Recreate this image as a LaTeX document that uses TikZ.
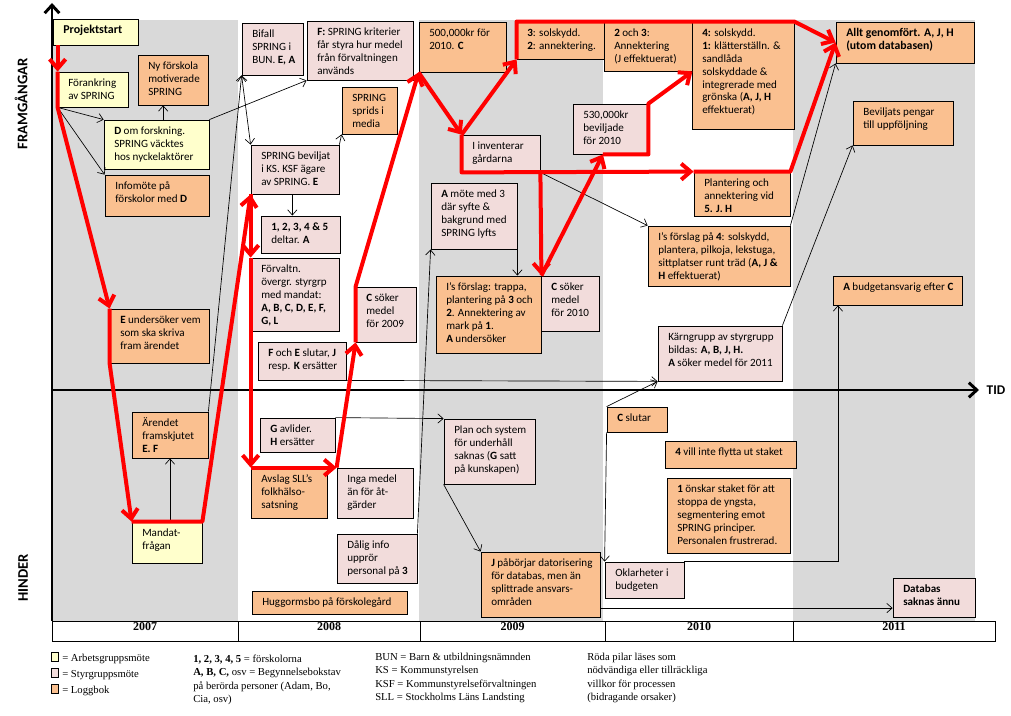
\documentclass[tikz,border=0pt]{standalone}
\usepackage{fontspec}
\setmainfont{Carlito}
\newfontfamily\legfont{Liberation Serif}
\usetikzlibrary{arrows.meta,fit,calc}
\definecolor{gbg}{HTML}{D9D9D9}
\definecolor{cyel}{HTML}{FFFFCC}
\definecolor{cpink}{HTML}{F2DCDB}
\definecolor{corg}{HTML}{FAC090}
\tikzset{
  boxs/.style={draw=black, line width=0.6pt, inner sep=0pt},
  txt/.style={anchor=north west, inner sep=0pt, align=left, font=\fontsize{8.3}{9.7}\selectfont},
  redar/.style={draw=red, line width=3pt, line join=round, -{Straight Barb[length=7pt,width=12pt]}},
  blk/.style={draw=black, line width=0.5pt, -{Straight Barb[length=4pt,width=7pt]}},
  axisln/.style={draw=black, line width=2.2pt, -{Straight Barb[length=6pt,width=11pt]}},
  yearcell/.style={draw=black, line width=0.6pt, inner sep=0pt, font=\legfont\bfseries\fontsize{9}{10}\selectfont},
  legtxt/.style={anchor=north west, inner sep=0pt, align=left, font=\legfont\fontsize{8}{10.1}\selectfont},
  legsq/.style={draw=black, line width=0.5pt, inner sep=0pt},
}
% #1 name, #2 x1, #3 y1, #4 x2, #5 y2, #6 fill, #7 text
\newcommand{\bx}[7]{%
  \node[boxs, fill=#6, fit={(#2,#3) (#4,#5)}] (#1) {};
  \path (#2,#3) ++(10,5) node[txt] (#1t) {\strut #7};
}
\begin{document}
\begin{tikzpicture}[x=0.75pt,y=-0.75pt]
\useasboundingbox (0,0) rectangle (1011,716);
% background columns
\fill[gbg] (52,20) rectangle (238,621);
\fill[gbg] (419,20) rectangle (603,621);
\fill[gbg] (793,20) rectangle (975,621);
% year row
\node[yearcell, fit={(52,621) (238,641)}] (y7) {2007};
\node[yearcell, fit={(238,621) (420,641)}] (y8) {2008};
\node[yearcell, fit={(420,621) (605,641)}] (y9) {2009};
\node[yearcell, fit={(605,621) (793,641)}] (y10) {2010};
\node[yearcell, fit={(793,621) (995,641)}] (y11) {2011};
% axes
\coordinate (origin) at (52,390);
\coordinate (ytop) at (52,3);
\coordinate (ybot) at (52,621);
\coordinate (xend) at (979,390);
\draw[axisln] (ybot) -- (ytop);
\draw[axisln] (origin) -- (xend);
\node[font=\bfseries\fontsize{10}{12}\selectfont] (tid) at (996,390) {TID};
\node[rotate=90, font=\bfseries\fontsize{11}{13}\selectfont] (fram) at (21,104) {FRAMGÅNGAR};
\node[rotate=90, font=\bfseries\fontsize{11}{13}\selectfont] (hind) at (23,578) {HINDER};
% boxes 2007
\bx{proj}{53}{19}{138}{45}{cyel}{\bfseries\fontsize{9}{10}\selectfont Projektstart}
\bx{fork}{58}{72}{128}{107}{cyel}{Förankring\\av SPRING}
\bx{nyf}{138}{55}{208}{105}{corg}{Ny förskola\\motiverade\\SPRING}
\bx{dom}{104}{120}{209}{169}{cyel}{\textbf{D} om forskning.\\SPRING väcktes\\hos nyckelaktörer}
\bx{info}{105}{175}{209}{216}{corg}{Infomöte på\\förskolor med \textbf{D}}
\bx{eund}{110}{309}{209}{363}{corg}{\textbf{E} undersöker vem\\som ska skriva\\fram ärendet}
\bx{aren}{132}{412}{208}{458}{corg}{Ärendet\\framskjutet\\\textbf{E. F}}
\bx{mand}{132}{522}{202}{563}{cyel}{Mandat-\\frågan}
% boxes 2008
\bx{bif}{242}{23}{303}{75}{cpink}{Bifall\\SPRING i\\BUN. \textbf{E, A}}
\bx{fspr}{307}{21}{413}{80}{cpink}{\textbf{F:} SPRING kriterier\\får styra hur medel\\från förvaltningen\\används}
\bx{media}{342}{87}{397}{134}{corg}{SPRING\\sprids i\\media}
\bx{bev}{251}{145}{339}{194}{cpink}{SPRING beviljat\\i KS. KSF ägare\\av SPRING. \textbf{E}}
\bx{d12345}{261}{216}{340}{253}{cpink}{\textbf{1, 2, 3, 4 \& 5}\\deltar. \textbf{A}}
\bx{forv}{251}{258}{339}{331}{cpink}{Förvaltn.\\övergr. styrgrp\\med mandat:\\\textbf{A, B, C, D, E, F,}\\\textbf{G, L}}
\bx{fej}{258}{342}{346}{380}{cpink}{\textbf{F} och \textbf{E} slutar, \textbf{J}\\resp. \textbf{K} ersätter}
\bx{csok9}{356}{287}{416}{342}{cpink}{\textbf{C} söker\\medel\\för 2009}
\bx{gav}{260}{418}{335}{452}{cpink}{\textbf{G} avlider.\\\textbf{H} ersätter}
\bx{avslag}{251}{468}{327}{518}{corg}{Avslag SLL’s\\folkhälso-\\satsning}
\bx{inga}{337}{468}{413}{518}{cpink}{Inga medel\\än för åt-\\gärder}
\bx{dalig}{337}{534}{417}{583}{cpink}{Dålig info\\upprör\\personal på \textbf{3}}
\bx{hugg}{252}{591}{407}{614}{corg}{Huggormsbo på förskolegård}
% boxes 2009
\bx{k500}{419}{22}{506}{72}{corg}{500,000kr för\\2010. \textbf{C}}
\bx{sol3}{517}{22}{604}{59}{corg}{\textbf{3}: solskydd.\\\textbf{2}: annektering.}
\bx{inv}{462}{135}{540}{172}{cpink}{I inventerar\\gårdarna}
\bx{amote}{431}{183}{517}{249}{cpink}{\textbf{A} möte med 3\\där syfte \&\\bakgrund med\\SPRING lyfts}
\bx{ifor}{436}{276}{541}{353}{corg}{I’s förslag: trappa,\\plantering på \textbf{3} och\\\textbf{2}. Annektering av\\mark på \textbf{1}.\\\textbf{A} undersöker}
\bx{csok10}{541}{276}{599}{331}{cpink}{\textbf{C} söker\\medel\\för 2010}
\bx{plan}{444}{419}{535}{484}{cpink}{Plan och system\\för underhåll\\saknas (\textbf{G} satt\\på kunskapen)}
\bx{jpab}{481}{552}{600}{617}{corg}{\textbf{J} påbörjar datorisering\\för databas, men än\\splittrade ansvars-\\områden}
% boxes 2010
\bx{k530}{573}{104}{648}{154}{cpink}{530,000kr\\beviljade\\för 2010}
\bx{ann23}{604}{22}{692}{71}{corg}{\textbf{2} och \textbf{3}:\\Annektering\\(J effektuerat)}
\bx{sol4}{692}{22}{794}{129}{corg}{\textbf{4:} solskydd.\\\textbf{1:} klätterställn. \&\\sandlåda\\solskyddade \&\\integrerade med\\grönska (\textbf{A, J, H}\\effektuerat)}
\bx{plant}{694}{172}{790}{216}{corg}{Plantering och\\annektering vid\\\textbf{5. J. H}}
\bx{i4}{648}{226}{790}{286}{corg}{I’s förslag på \textbf{4}: solskydd,\\plantera, pilkoja, lekstuga,\\sittplatser runt träd (\textbf{A, J \&}\\\textbf{H} effektuerat)}
\bx{karn}{658}{326}{782}{381}{cpink}{Kärngrupp av styrgrupp\\bildas: \textbf{A, B, J, H.}\\\textbf{A} söker medel för 2011}
\bx{cslut}{607}{407}{667}{432}{corg}{\textbf{C} slutar}
\bx{vill4}{665}{441}{796}{468}{corg}{\textbf{4} vill inte flytta ut staket}
\bx{ons1}{667}{478}{790}{553}{corg}{\textbf{1} önskar staket för att\\stoppa de yngsta,\\segmentering emot\\SPRING principer.\\Personalen frustrerad.}
\bx{okl}{605}{562}{684}{598}{cpink}{Oklarheter i\\budgeten}
% boxes 2011
\bx{allt}{836}{22}{974}{63}{corg}{\bfseries\fontsize{8.8}{10.2}\selectfont Allt genomfört. A, J, H\\\bfseries\fontsize{8.8}{10.2}\selectfont (utom databasen)}
\bx{bevp}{853}{101}{953}{145}{corg}{Beviljats pengar\\till uppföljning}
\bx{abud}{833}{276}{962}{305}{corg}{\textbf{A} budgetansvarig efter \textbf{C}}
\bx{databas}{893}{578}{975}{617}{cpink}{\bfseries Databas\\\bfseries saknas ännu}
% thin black connectors
\draw[blk] (fork.south west) -- (dom.north west);
\draw[blk] (fork.south west) -- (info.north west);
\draw[blk] ([xshift=5pt]dom.north) -- ([xshift=5pt]dom.north |- nyf.south);
\draw[blk] (dom.north east) -- (fspr.south west);
\draw[blk] (aren.north east) -- (bif.south west);
\draw[blk, {Straight Barb[length=4pt,width=7pt]}-{Straight Barb[length=4pt,width=7pt]}] (bif.south west) -- (bev.north west);
\draw[blk] (aren.south |- mand.north) -- (aren.south);
\draw[blk] ([xshift=-2pt]bev.south) -- ([xshift=-2pt]bev.south |- d12345.north);
\draw[blk] (bev.north east) -- (media.south west);
\draw[blk] (fej.south east) -- (karn.south west);
\draw[blk] (inv.south east) -- (i4.north west);
\draw[blk] (i4.north east) -- (allt.south west);
\draw[blk] (karn.north east) -- (bevp.south west);
\draw[blk] (amote.south east) -- (amote.south east |- ifor.north);
\draw[blk] (dalig.north east) -- (amote.south west);
\draw[blk] (gav.north east) -- (plan.north west);
\draw[blk] (plan.south west) -- (jpab.north west);
\draw[blk] ([yshift=7pt]jpab.south east) -- ([yshift=7pt]jpab.south east -| databas.west);
\draw[blk] (cslut.south west) -- (okl.north west);
\draw[blk] (cslut.north west) -- (karn.south west);
\draw[blk] (okl.north east) -| ([xshift=4pt]abud.south west);
% red connectors
\coordinate (k530in) at ($(k530.south west)!0.4!(k530.south east)$);
\draw[redar] (proj.south -| fork.west) -- (fork.north west);
\draw[redar] (fork.north west) -- (fork.south west) -- (eund.north west);
\draw[redar] (eund.north west) -- (eund.south west) -- (mand.north west);
\draw[redar] (mand.north west) -- (mand.north east) -- (bev.south west);
\draw[redar] (bev.south west) -- (forv.north west);
\draw[redar] (forv.north west) -- (forv.south west) -- (avslag.north west);
\draw[redar] (avslag.north west) -- (inga.north west);
\draw[redar] (inga.north west) -- (csok9.south west);
\draw[redar] (csok9.south west) -- (csok9.north west) -- (k500.south west);
\draw[redar] (k500.south west) -- (inv.north west);
\draw[redar] (inv.north west) -- (sol3.south west);
\draw[redar] (sol3.south west) -- (sol3.north west) -- (sol4.north east) -- (allt.west);
\draw[redar] (inv.north west) -- (inv.south west) -- (plant.north west);
\draw[redar] (plant.north west) -- (plant.north east) -- (allt.west);
\draw[redar] (inv.south east) -- (ifor.north east);
\draw[redar] (ifor.north east) -- (k530in);
\draw[redar] (k530in) -- (k530.south east) -- (k530.north east) -- (ann23.south east);
% legend
\node[legsq, fill=cyel, fit={(51,652) (58,661)}] (lq1) {};
\node[legsq, fill=cpink, fit={(51,668) (58,677)}] (lq2) {};
\node[legsq, fill=corg, fit={(51,684) (58,693)}] (lq3) {};
\node[legtxt, font=\legfont\fontsize{8}{12}\selectfont] (lt1) at (62,650) {\strut= Arbetsgruppsmöte\\= Styrgruppsmöte\\= Loggbok};
\node[legtxt] (lt2) at (193,652.5) {\strut\textbf{1, 2, 3, 4, 5} = förskolorna\\\textbf{A, B, C,} osv = Begynnelsebokstav\\på berörda personer (Adam, Bo,\\Cia, osv)};
\node[legtxt] (lt3) at (375,650.5) {\strut BUN = Barn \& utbildningsnämnden\\KS = Kommunstyrelsen\\KSF = Kommunstyrelseförvaltningen\\SLL = Stockholms Läns Landsting};
\node[legtxt] (lt4) at (587,650.5) {\strut Röda pilar läses som\\nödvändiga eller tillräckliga\\villkor för processen\\(bidragande orsaker)};
\end{tikzpicture}
\end{document}
